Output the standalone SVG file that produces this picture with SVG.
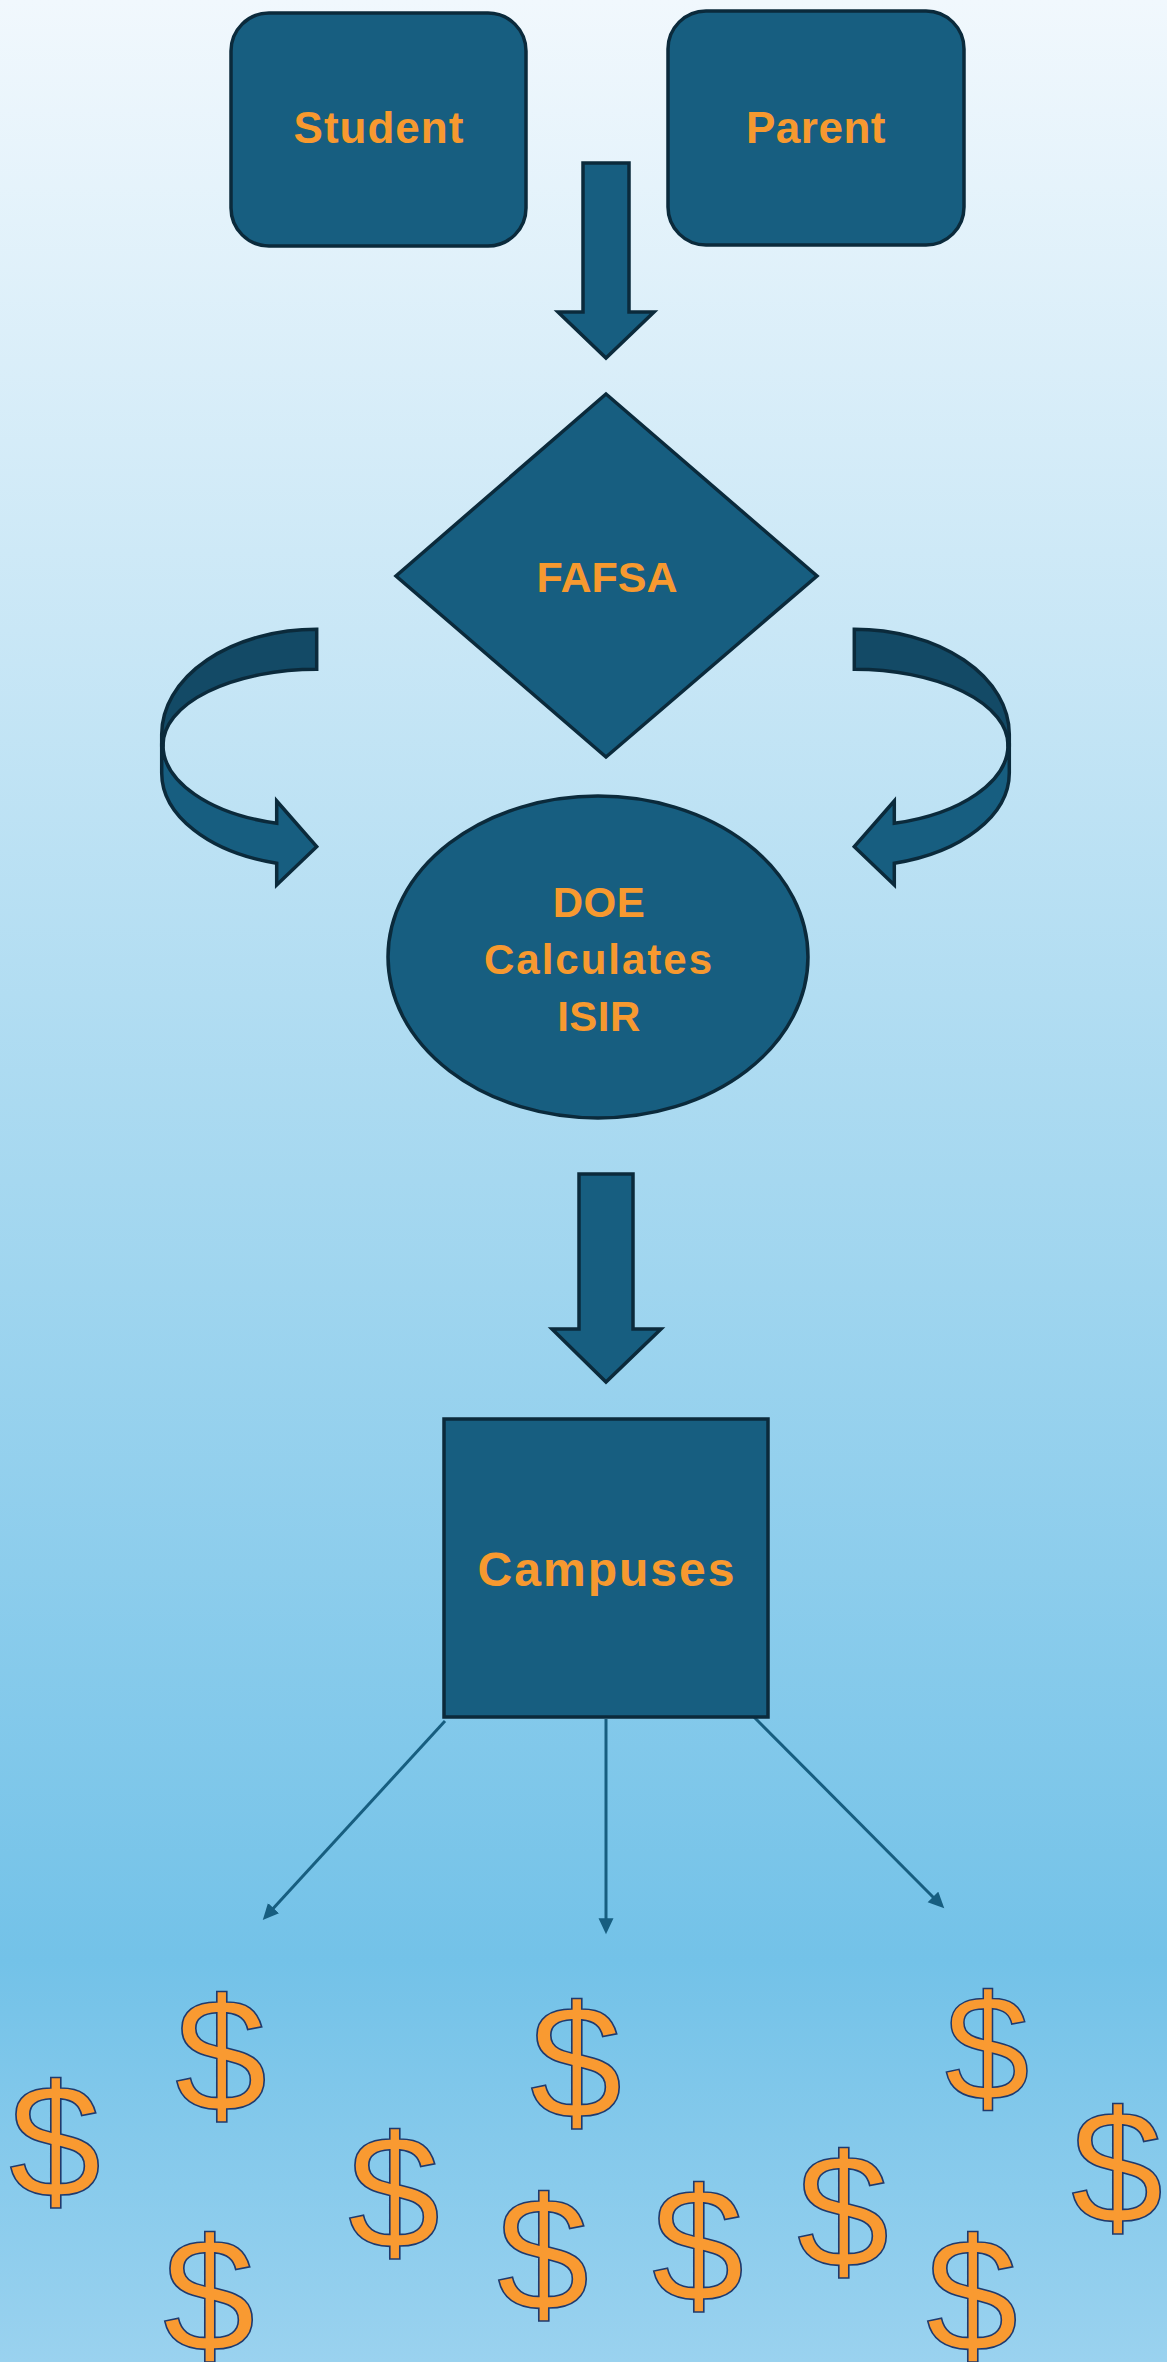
<svg xmlns="http://www.w3.org/2000/svg" width="1167" height="2362" viewBox="0 0 1167 2362">
<defs>
<linearGradient id="bg" x1="0" y1="0" x2="0" y2="1">
<stop offset="0" stop-color="#F1F8FD"/>
<stop offset="0.5" stop-color="#A6D8F0"/>
<stop offset="0.83" stop-color="#73C2E8"/>
<stop offset="1" stop-color="#9AD2EF"/>
</linearGradient>
<marker id="ah" markerUnits="userSpaceOnUse" markerWidth="18" markerHeight="16" refX="6" refY="7.5" orient="auto">
<path d="M0,0 L16,7.5 L0,15 Z" fill="#175E80"/>
</marker>
<style>
.shape{fill:#175E80;stroke:#0B2A3B;stroke-width:3.5;stroke-linejoin:miter}
.band{fill:#134A66;stroke:#0B2A3B;stroke-width:3.5}
.lbl{font-family:"Liberation Sans",Arial,sans-serif;font-weight:bold;fill:#F7992F;text-anchor:middle}
.thin{stroke:#175E80;stroke-width:3;fill:none}
.d{font-family:"Liberation Sans",Arial,sans-serif;font-size:162px;fill:#F99A31;stroke:#1F3A6E;stroke-width:1.6;text-anchor:middle}
</style>
</defs>
<rect id="background" x="0" y="0" width="1167" height="2362" fill="url(#bg)"/>

<g id="connectors">
<polygon class="shape" points="583,163 629,163 629,312 654,312 606,358 558,312 583,312"/>
<g id="curve-left">
<path class="band" d="M316.7,629.3 A155,105 0 0 0 161.7,734.3 L161.7,745 L163,745 A153.7,75.7 0 0 1 316.7,669.3 Z"/>
<path class="shape" d="M163,745 A153.7,81.1 0 0 0 276.7,823.3 L276.7,801 L316.7,846.7 L276.7,885 L276.7,863.3 A155,93.5 0 0 1 161.7,773 L161.7,745 Z"/>
</g>
<g id="curve-right" transform="matrix(-1 0 0 1 1171 0)">
<path class="band" d="M316.7,629.3 A155,105 0 0 0 161.7,734.3 L161.7,745 L163,745 A153.7,75.7 0 0 1 316.7,669.3 Z"/>
<path class="shape" d="M163,745 A153.7,81.1 0 0 0 276.7,823.3 L276.7,801 L316.7,846.7 L276.7,885 L276.7,863.3 A155,93.5 0 0 1 161.7,773 L161.7,745 Z"/>
</g>
<polygon class="shape" points="579,1174 633,1174 633,1329 661,1329 606,1382 552,1329 579,1329"/>
<line class="thin" x1="445" y1="1721" x2="269.5" y2="1912.6" marker-end="url(#ah)"/>
<line class="thin" x1="606" y1="1719" x2="606" y2="1924.3" marker-end="url(#ah)"/>
<line class="thin" x1="754" y1="1717" x2="937.2" y2="1901.2" marker-end="url(#ah)"/>
</g>

<g id="student">
<rect class="shape" x="231" y="13" width="295" height="233" rx="38" ry="38"/>
<text class="lbl" x="379" y="143" font-size="44" letter-spacing="1">Student</text>
</g>
<g id="parent">
<rect class="shape" x="668" y="11" width="296" height="234" rx="38" ry="38"/>
<text class="lbl" x="816" y="143" font-size="44" letter-spacing="0.5">Parent</text>
</g>
<g id="fafsa">
<polygon class="shape" points="606,394 817,576 606,757 396,576"/>
<text class="lbl" x="607" y="592" font-size="43">FAFSA</text>
</g>
<g id="doe">
<ellipse class="shape" cx="598" cy="957" rx="210" ry="161"/>
<text class="lbl" x="599" y="917" font-size="42" letter-spacing="0.5">DOE</text>
<text class="lbl" x="599" y="974" font-size="42" letter-spacing="2">Calculates</text>
<text class="lbl" x="599" y="1031" font-size="42" letter-spacing="0.5">ISIR</text>
</g>
<g id="campuses">
<rect class="shape" x="444" y="1419" width="324" height="298"/>
<text class="lbl" x="607" y="1586" font-size="48" letter-spacing="2">Campuses</text>
</g>

<g id="dollars">
<text class="d" transform="translate(55,2196.6) scale(1.02,1)">$</text>
<text class="d" transform="translate(221,2110.6) scale(1.02,1)">$</text>
<text class="d" transform="translate(576,2117.6) scale(1.02,1)">$</text>
<text class="d" transform="translate(987,2100.4) scale(0.94,0.926)">$</text>
<text class="d" transform="translate(1117,2222.6) scale(1.02,1)">$</text>
<text class="d" transform="translate(394,2247.6) scale(1.02,1)">$</text>
<text class="d" transform="translate(209,2350.6) scale(1.02,1)">$</text>
<text class="d" transform="translate(543,2309.6) scale(1.02,1)">$</text>
<text class="d" transform="translate(698,2300.6) scale(1.02,1)">$</text>
<text class="d" transform="translate(843,2266.6) scale(1.02,1)">$</text>
<text class="d" transform="translate(972,2350.6) scale(1.02,1)">$</text>
</g>
</svg>
